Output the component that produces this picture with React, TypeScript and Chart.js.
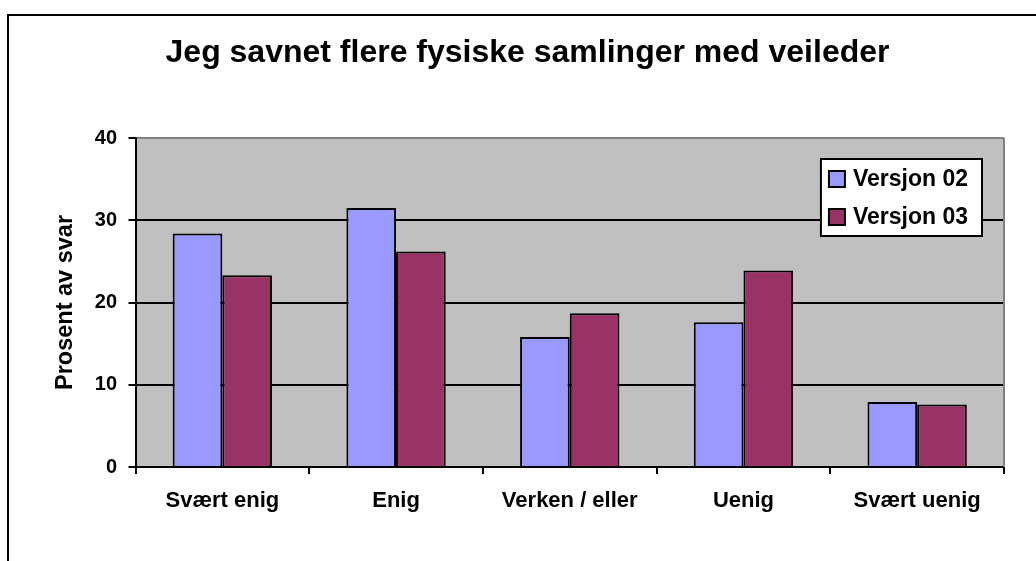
import React, { useEffect, useRef } from 'react';
import { Chart, registerables } from 'chart.js';

Chart.register(...registerables);

const categories = ['Svært enig', 'Enig', 'Verken / eller', 'Uenig', 'Svært uenig'];
const seriesNames = ['Versjon 02', 'Versjon 03'];
const versjon02 = [28.4, 31.5, 15.8, 17.6, 7.9];
const versjon03 = [23.3, 26.2, 18.7, 23.9, 7.6];
const yTicks = [0, 10, 20, 30, 40];
const chartTitle = 'Jeg savnet flere fysiske samlinger med veileder';
const yAxisTitle = 'Prosent av svar';

const seriesColors = ['#9999FF', '#993366'];
const FONT = "'Liberation Sans', Arial, Helvetica, sans-serif";

const framePlugin = {
  id: 'frameAndBackground',
  beforeDraw(chart: any) {
    const { ctx, chartArea } = chart;
    ctx.save();
    ctx.strokeStyle = '#000';
    ctx.lineWidth = 2;
    ctx.beginPath();
    ctx.moveTo(8, 561);
    ctx.lineTo(8, 15);
    ctx.lineTo(1036, 15);
    ctx.stroke();
    ctx.fillStyle = '#C0C0C0';
    ctx.fillRect(chartArea.left, chartArea.top, chartArea.right - chartArea.left, chartArea.bottom - chartArea.top);
    ctx.restore();
  },
  beforeDatasetsDraw(chart: any) {
    const { ctx, chartArea } = chart;
    ctx.save();
    ctx.strokeStyle = '#808080';
    ctx.lineWidth = 2;
    ctx.beginPath();
    ctx.moveTo(chartArea.right, chartArea.top);
    ctx.lineTo(chartArea.right, chartArea.bottom);
    ctx.stroke();
    ctx.restore();
  },
};

const boxLegendPlugin = {
  id: 'boxLegend',
  afterDraw(chart: any) {
    const { ctx, chartArea } = chart;
    ctx.save();
    ctx.font = `bold 23px ${FONT}`;
    const items = chart.data.datasets.map((ds: any) => ({ label: ds.label, color: ds.backgroundColor }));
    const textW = Math.max(...items.map((i: any) => ctx.measureText(i.label).width));
    const sq = 16;
    const padL = 8;
    const gap = 8;
    const padR = 14;
    const rowH = 38;
    const w = padL + sq + gap + textW + padR;
    const h = 77;
    const right = chartArea.right - 22;
    const top = chartArea.top + 21;
    const left = right - w;
    ctx.fillStyle = '#FFFFFF';
    ctx.fillRect(left, top, w, h);
    ctx.strokeStyle = '#000';
    ctx.lineWidth = 2;
    ctx.strokeRect(left, top, w, h);
    items.forEach((it: any, i: number) => {
      const cy = top + 20 + i * rowH;
      ctx.fillStyle = it.color;
      ctx.fillRect(left + padL, cy - sq / 2, sq, sq);
      ctx.strokeStyle = '#000';
      ctx.lineWidth = 2;
      ctx.strokeRect(left + padL, cy - sq / 2, sq, sq);
      ctx.fillStyle = '#000';
      ctx.textAlign = 'left';
      ctx.textBaseline = 'middle';
      ctx.fillText(it.label, left + padL + sq + gap, cy + 1);
    });
    ctx.restore();
  },
};

export default function App() {
  const canvasRef = useRef<HTMLCanvasElement | null>(null);

  useEffect(() => {
    if (!canvasRef.current) return;
    Chart.defaults.color = '#000';
    Chart.defaults.font.family = FONT;
    const chart = new Chart(canvasRef.current, {
      type: 'bar',
      data: {
        labels: categories,
        datasets: [
          {
            label: seriesNames[0],
            data: versjon02,
            backgroundColor: seriesColors[0],
            borderColor: '#000',
            borderWidth: 2,
            barPercentage: 1,
            categoryPercentage: 0.572,
          },
          {
            label: seriesNames[1],
            data: versjon03,
            backgroundColor: seriesColors[1],
            borderColor: '#000',
            borderWidth: 2,
            barPercentage: 1,
            categoryPercentage: 0.572,
          },
        ],
      },
      options: {
        responsive: false,
        animation: false,
        devicePixelRatio: 1,
        layout: { padding: { left: 51, right: 32, top: 0, bottom: 0 } },
        plugins: {
          legend: { display: false },
          tooltip: { enabled: false },
          title: {
            display: true,
            text: chartTitle,
            color: '#000',
            font: { size: 32, weight: 'bold', family: FONT },
            padding: { top: 33.8, bottom: 65.8 },
          },
        },
        scales: {
          x: {
            offset: true,
            afterFit(scale: any) {
              scale.height = 94;
            },
            grid: {
              offset: true,
              drawOnChartArea: false,
              drawTicks: true,
              tickLength: 7,
              color: '#000',
              lineWidth: 2,
            },
            border: { display: true, color: '#000', width: 2 },
            ticks: {
              color: '#000',
              font: { size: 22, weight: 'bold', family: FONT },
              padding: 14,
              maxRotation: 0,
              autoSkip: false,
            },
          },
          y: {
            min: 0,
            max: 40,
            afterBuildTicks(scale: any) {
              scale.ticks = yTicks.map((v) => ({ value: v }));
            },
            afterFit(scale: any) {
              scale.width = 84.5;
            },
            grid: {
              color: (ctx: any) => (ctx.tick && ctx.tick.value === 40 ? '#808080' : '#000'),
              tickColor: '#000',
              lineWidth: 2,
              tickLength: 7,
            },
            border: { display: true, color: '#000', width: 2 },
            ticks: {
              color: '#000',
              font: { size: 20, weight: 'bold', family: FONT },
              padding: 11.5,
            },
            title: {
              display: true,
              text: yAxisTitle,
              color: '#000',
              font: { size: 23.5, weight: 'bold', family: FONT },
              padding: { top: 0, bottom: 0 },
            },
          },
        },
      },
      plugins: [framePlugin, boxLegendPlugin],
    } as any);
    return () => chart.destroy();
  }, []);

  return (
    <div style={{ position: 'absolute', left: 0, top: 0, width: 1036, height: 561, background: '#fff' }}>
      <canvas ref={canvasRef} width={1036} height={561} style={{ width: 1036, height: 561, display: 'block' }} />
    </div>
  );
}
